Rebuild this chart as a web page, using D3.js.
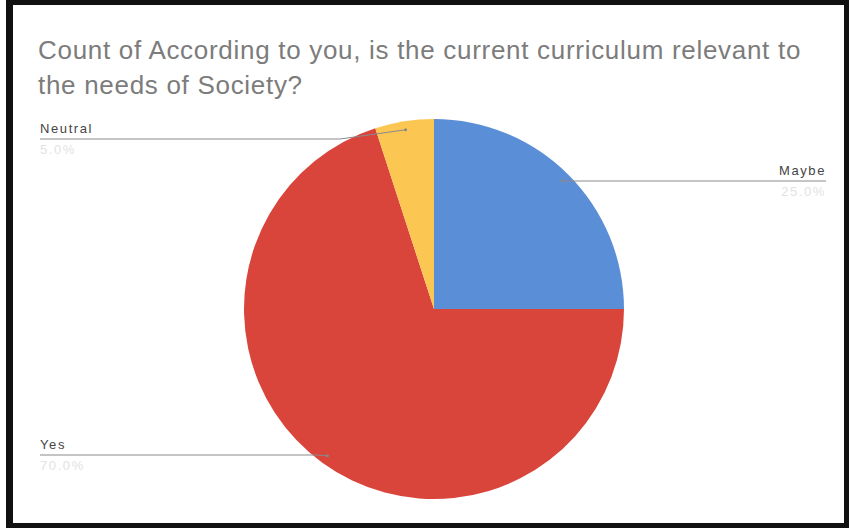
<!DOCTYPE html>
<html>
<head>
<meta charset="utf-8">
<script src="https://cdn.jsdelivr.net/npm/d3@7"></script>
<style>
  html, body { margin: 0; padding: 0; background: #fff; }
  svg { display: block; }
</style>
</head>
<body>
<div id="chart"></div>
<script>
"use strict";

// data
const categories = ["Maybe", "Yes", "Neutral"];
const counts = [5, 14, 1];
const colors = ["#5a8fd8", "#d9443b", "#fcc653"];
const titleLines = [
  "Count of According to you, is the current curriculum relevant to",
  "the needs of Society?"
];

const width = 849, height = 528;
const cx = 434, cy = 309, radius = 190;

const svg = d3.select("#chart").append("svg")
  .attr("width", width)
  .attr("height", height);

// scanned frame
svg.append("rect").attr("x", 0).attr("y", 0).attr("width", width).attr("height", height).attr("fill", "#fff");
svg.append("path")
  .attr("d", "M9,2.5 H846.5 V525.5 H9 Z")
  .attr("fill", "none")
  .attr("stroke", "#111")
  .attr("stroke-width", 5);
svg.append("rect").attr("x", 6).attr("y", 0).attr("width", 7).attr("height", height).attr("fill", "#111");

// title
svg.append("g")
  .selectAll("text")
  .data(titleLines)
  .join("text")
  .attr("x", 38)
  .attr("y", (d, i) => 59 + i * 35)
  .attr("font-family", "'Liberation Sans', Arial, sans-serif")
  .attr("font-size", 26)
  .attr("letter-spacing", 0.7)
  .attr("fill", "#7c7c7c")
  .text((d) => d);

const total = d3.sum(counts);
const pie = d3.pie().sort(null).value((d) => d)(counts);
const arc = d3.arc().innerRadius(0).outerRadius(radius);

const g = svg.append("g").attr("transform", `translate(${cx},${cy})`);
g.selectAll("path")
  .data(pie)
  .join("path")
  .attr("d", arc)
  .attr("fill", (d, i) => colors[i]);

// labels: side + y of the leader line
const labelLayout = {
  Maybe: { side: "right", x: 826, lineY: 181 },
  Yes: { side: "left", x: 40, lineY: 455 },
  Neutral: { side: "left", x: 40, lineY: 139 }
};

const lab = svg.append("g");
pie.forEach((d, i) => {
  const name = categories[i];
  const L = labelLayout[name];
  const mid = (d.startAngle + d.endAngle) / 2;
  const px = cx + Math.sin(mid) * radius * 0.955;
  const py = cy - Math.cos(mid) * radius * 0.955;
  const bendX = L.side === "left" ? Math.min(px - 10, 340) : Math.max(px + 10, px);

  lab.append("path")
    .attr("d", `M${L.x},${L.lineY} H${bendX} L${px},${py}`)
    .attr("fill", "none")
    .attr("stroke", "#8a8a8a")
    .attr("stroke-width", 1);

  lab.append("circle")
    .attr("cx", px).attr("cy", py).attr("r", 1.5)
    .attr("fill", "#888");

  const anchor = L.side === "left" ? "start" : "end";
  lab.append("text")
    .attr("x", L.x)
    .attr("y", L.lineY - 6)
    .attr("text-anchor", anchor)
    .attr("font-family", "'Liberation Sans', Arial, sans-serif")
    .attr("font-size", 13)
    .attr("letter-spacing", 1.6)
    .attr("fill", "#444")
    .text(name);

  lab.append("text")
    .attr("x", L.x)
    .attr("y", L.lineY + 15)
    .attr("text-anchor", anchor)
    .attr("font-family", "'Liberation Sans', Arial, sans-serif")
    .attr("font-size", 13)
    .attr("letter-spacing", 1.6)
    .attr("fill", "#e2e2e2")
    .text(d3.format(".1%")(d.value / total));
});
</script>
</body>
</html>
